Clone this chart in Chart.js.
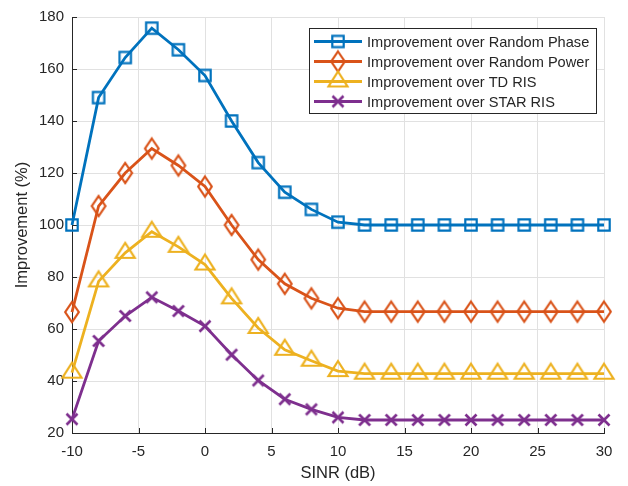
<!DOCTYPE html>
<html>
<head>
<meta charset="utf-8">
<script src="https://cdn.jsdelivr.net/npm/chart.js@4.4.1/dist/chart.umd.min.js"></script>
<style>
    html, body { margin: 0; padding: 0; background: #fff; }
</style>
</head>
<body>
<canvas id="improvementChart" width="628" height="486"></canvas>
<script>
const sinrDb = [-10, -8, -6, -4, -2, 0, 2, 4, 6, 8, 10, 12, 14, 16, 18, 20, 22, 24, 26, 28, 30];

const overRandomPhase = [100, 149, 164.4, 175.7, 167.4, 157.5, 140, 124, 112.6, 106, 101.1,
    100, 100, 100, 100, 100, 100, 100, 100, 100, 100];
const overRandomPower = [66.5, 107.3, 120, 129.4, 122.9, 114.8, 100, 86.7, 77.4, 71.8, 68,
    66.7, 66.7, 66.7, 66.7, 66.7, 66.7, 66.7, 66.7, 66.7, 66.7];
const overTdRis = [43.2, 78.3, 89.3, 97.4, 91.6, 84.8, 71.8, 60.4, 52, 47.8, 43.8,
    42.8, 42.8, 42.8, 42.8, 42.8, 42.8, 42.8, 42.8, 42.8, 42.8];
const overStarRis = [25.3, 55.4, 65, 72.2, 66.9, 61.1, 50.1, 40.2, 33, 29.1, 26,
    25, 25, 25, 25, 25, 25, 25, 25, 25, 25];

const seriesLabels = [
    'Improvement over Random Phase',
    'Improvement over Random Power',
    'Improvement over TD RIS',
    'Improvement over STAR RIS'
];

const xTickValues = [-10, -5, 0, 5, 10, 15, 20, 25, 30];
const yTickValues = [20, 40, 60, 80, 100, 120, 140, 160, 180];

(function () {
    const axisColor = '#262626';
    const gridColor = '#e1e1e1';
    const colors = ['#0072BD', '#D95319', '#EDB120', '#7E2F8E'];
    const markerKinds = ['square', 'diamond', 'triangle', 'cross'];
    const seriesValues = [overRandomPhase, overRandomPower, overTdRis, overStarRis];

    Chart.defaults.font.family = '"Liberation Sans", Arial, Helvetica, sans-serif';
    Chart.defaults.color = axisColor;

    // MATLAB-like hollow markers, drawn once and used as point images
    function makeMarker(kind, color) {
        const c = document.createElement('canvas');
        if (kind === 'diamond') {
            c.width = 20; c.height = 28;
        } else if (kind === 'triangle') {
            c.width = 26; c.height = 26;
        } else {
            c.width = 16; c.height = 16;
        }
        const ctx = c.getContext('2d');
        const cx = c.width / 2;
        const cy = c.height / 2;
        ctx.strokeStyle = color;
        ctx.lineWidth = 2.2;
        ctx.lineJoin = 'miter';
        ctx.beginPath();
        if (kind === 'square') {
            ctx.rect(cx - 5.7, cy - 5.7, 11.4, 11.4);
        } else if (kind === 'diamond') {
            ctx.moveTo(cx, cy - 10);
            ctx.lineTo(cx + 6.8, cy);
            ctx.lineTo(cx, cy + 10);
            ctx.lineTo(cx - 6.8, cy);
            ctx.closePath();
        } else if (kind === 'triangle') {
            ctx.moveTo(cx, cy - 10);
            ctx.lineTo(cx + 9.5, cy + 5);
            ctx.lineTo(cx - 9.5, cy + 5);
            ctx.closePath();
        } else {
            ctx.moveTo(cx - 5.5, cy - 5.5);
            ctx.lineTo(cx + 5.5, cy + 5.5);
            ctx.moveTo(cx + 5.5, cy - 5.5);
            ctx.lineTo(cx - 5.5, cy + 5.5);
            ctx.lineWidth = 2.7;
        }
        ctx.stroke();
        return c;
    }

    const markers = markerKinds.map(function (kind, i) {
        return makeMarker(kind, colors[i]);
    });

    const datasets = seriesLabels.map(function (label, i) {
        return {
            label: label,
            data: sinrDb.map(function (x, j) {
                return { x: x, y: seriesValues[i][j] };
            }),
            borderColor: colors[i],
            backgroundColor: colors[i],
            borderWidth: 2.8,
            pointStyle: markers[i],
            pointRadius: 6,
            tension: 0,
            clip: false
        };
    });

    // inward tick marks on the left and bottom axes
    const innerTicks = {
        id: 'innerTicks',
        beforeDatasetsDraw: function (chart) {
            const ctx = chart.ctx;
            const area = chart.chartArea;
            const xs = chart.scales.x;
            const ys = chart.scales.y;
            ctx.save();
            ctx.strokeStyle = axisColor;
            ctx.lineWidth = 1;
            ctx.beginPath();
            xTickValues.forEach(function (v) {
                const px = Math.round(xs.getPixelForValue(v)) + 0.5;
                ctx.moveTo(px, area.bottom);
                ctx.lineTo(px, area.bottom - 5);
            });
            yTickValues.forEach(function (v) {
                const py = Math.round(ys.getPixelForValue(v)) + 0.5;
                ctx.moveTo(area.left, py);
                ctx.lineTo(area.left + 5, py);
            });
            ctx.stroke();
            ctx.restore();
        }
    };

    // boxed legend in the upper right, line sample with marker
    const boxLegend = {
        id: 'boxLegend',
        afterDatasetsDraw: function (chart) {
            const ctx = chart.ctx;
            const area = chart.chartArea;
            const right = area.right - 8;
            const top = area.top + 11;
            const width = 287;
            const height = 85;
            const left = right - width;
            ctx.save();
            ctx.fillStyle = '#fff';
            ctx.fillRect(left, top, width, height);
            ctx.strokeStyle = axisColor;
            ctx.lineWidth = 1;
            ctx.strokeRect(Math.round(left) + 0.5, Math.round(top) + 0.5, width, height);
            ctx.font = '14.6px "Liberation Sans", Arial, sans-serif';
            ctx.textBaseline = 'middle';
            ctx.textAlign = 'left';
            seriesLabels.forEach(function (label, i) {
                const y = top + 13.5 + i * 20;
                ctx.strokeStyle = colors[i];
                ctx.lineWidth = 2.8;
                ctx.beginPath();
                ctx.moveTo(left + 5, y);
                ctx.lineTo(left + 53, y);
                ctx.stroke();
                const m = markers[i];
                ctx.drawImage(m, left + 29 - m.width / 2, y - m.height / 2);
                ctx.fillStyle = axisColor;
                ctx.fillText(label, left + 58, y + 1);
            });
            ctx.restore();
        }
    };

    new Chart(document.getElementById('improvementChart'), {
        type: 'line',
        data: { datasets: datasets },
        options: {
            responsive: false,
            animation: false,
            events: [],
            layout: {
                autoPadding: false,
                padding: { top: 13, right: 24, left: 0, bottom: 0 }
            },
            plugins: {
                legend: { display: false },
                tooltip: { enabled: false }
            },
            scales: {
                x: {
                    type: 'linear',
                    min: -10,
                    max: 30,
                    afterBuildTicks: function (scale) {
                        scale.ticks = xTickValues.map(function (v) { return { value: v }; });
                    },
                    afterFit: function (scale) {
                        scale.height = 53;
                    },
                    grid: { color: gridColor, drawTicks: false, lineWidth: 1 },
                    border: { display: true, color: axisColor, width: 1 },
                    ticks: {
                        color: axisColor,
                        font: { size: 15 },
                        padding: 10,
                        maxRotation: 0,
                        autoSkip: false
                    },
                    title: {
                        display: true,
                        text: 'SINR (dB)',
                        color: axisColor,
                        font: { size: 16.5 },
                        padding: { top: 0, bottom: 3 }
                    }
                },
                y: {
                    type: 'linear',
                    min: 20,
                    max: 180,
                    afterBuildTicks: function (scale) {
                        scale.ticks = yTickValues.map(function (v) { return { value: v }; });
                    },
                    afterFit: function (scale) {
                        scale.width = 72;
                    },
                    grid: { color: gridColor, drawTicks: false, lineWidth: 1 },
                    border: { display: true, color: axisColor, width: 1 },
                    ticks: {
                        color: axisColor,
                        font: { size: 15 },
                        padding: 8,
                        autoSkip: false
                    },
                    title: {
                        display: true,
                        text: 'Improvement (%)',
                        color: axisColor,
                        font: { size: 16.5 },
                        padding: { top: 13, bottom: 0 }
                    }
                }
            }
        },
        plugins: [innerTicks, boxLegend]
    });
})();
</script>
</body>
</html>
